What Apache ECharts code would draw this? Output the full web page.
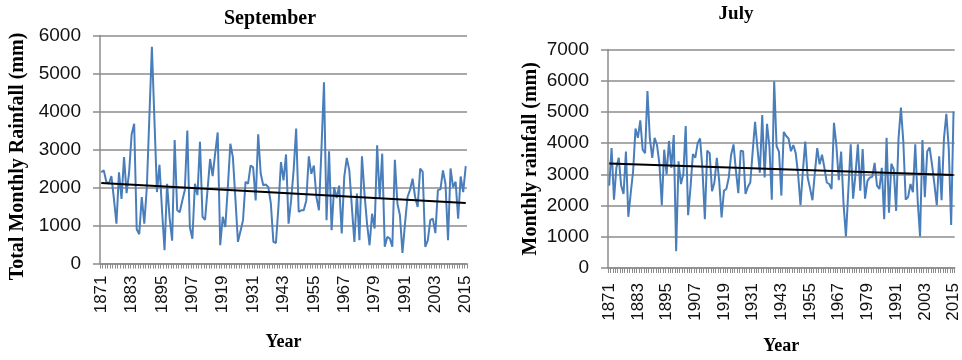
<!DOCTYPE html>
<html>
<head>
<meta charset="utf-8">
<script src="https://cdn.jsdelivr.net/npm/echarts@6/dist/echarts.min.js"></script>
<style>
  html, body { margin: 0; padding: 0; background: #fff; }
  #chart { width: 962px; height: 360px; }
</style>
</head>
<body>
<div id="chart"></div>
<script>
// years 1871..2015
const years = [];
for (let y = 1871; y <= 2015; y++) years.push(String(y));

// September total monthly rainfall (mm)
const septRain = [
  2400, 2450, 2150, 2100, 2300, 1700, 1050, 2400, 1700, 2800,
  1850, 2400, 3400, 3680, 900, 770, 1750, 1050, 2000, 3850,
  5700, 3800, 1880, 2600, 1400, 350, 2100, 1200, 600, 3250,
  1400, 1350, 1650, 1930, 3500, 960, 650, 2100, 1800, 3200,
  1230, 1150, 1950, 2750, 2300, 2900, 3450, 480, 1230, 960,
  2000, 3150, 2800, 1700, 570, 850, 1140, 2150, 2100, 2580,
  2530, 1660, 3400, 2360, 2060, 2080, 2010, 1580, 570, 540,
  1490, 2670, 2190, 2870, 1050, 1660, 2450, 3550, 1360, 1400,
  1400, 1660, 2820, 2360, 2580, 1750, 1400, 3020, 4770, 1140,
  2950, 875, 2010, 1720, 2050, 790, 2280, 2780, 2450, 1490,
  570, 1840, 610, 2820, 1840, 1050, 480, 1310, 920, 3110,
  1710, 2890, 440, 700, 660, 440, 2730, 1580, 1270, 280,
  1050, 1750, 1940, 2230, 1750, 1490, 2500, 2410, 440, 610,
  1140, 1180, 800, 1930, 1950, 2450, 2100, 610, 2500, 2010,
  2150, 1180, 2290, 1880, 2560
];

// July monthly rainfall (mm)
const julyRain = [
  2640, 3840, 2190, 3210, 3530, 2640, 2370, 3730, 1640, 2400,
  3100, 4470, 4170, 4730, 3790, 3680, 5670, 4150, 3530, 4170,
  3940, 3340, 2010, 3790, 3000, 4070, 3210, 4260, 540, 3420,
  2690, 3000, 4550, 1690, 2580, 3650, 3530, 4000, 4150, 3160,
  1560, 3760, 3680, 2460, 2740, 3530, 2790, 1620, 2480, 2530,
  2900, 3630, 3960, 3110, 2400, 3760, 3740, 2370, 2600, 2740,
  3730, 4680, 3840, 3050, 4900, 2900, 4620, 3900, 2190, 5980,
  3900, 3730, 2320, 4360, 4230, 4150, 3740, 3940, 3680, 3000,
  2010, 3110, 4050, 2900, 2550, 2170, 3050, 3840, 3320, 3630,
  3210, 2740, 2690, 2530, 4650, 3940, 2810, 3730, 2060, 1010,
  2480, 3960, 2220, 3000, 3960, 2480, 3810, 2220, 2790, 2900,
  2920, 3370, 2640, 2530, 3210, 1560, 4170, 1770, 3340, 3160,
  1830, 4150, 5140, 4050, 2190, 2270, 2690, 2430, 3960, 2170,
  1010, 4100, 2270, 3730, 3860, 3320, 2690, 2010, 3580, 2170,
  4150, 4940, 3840, 1380, 5010
];

// linear trend end values (first and last year)
const septTrend = [2120, 1590];
const julyTrend = [3350, 2980];

const trendData = (ends) =>
  years.map((_, i) => (i === 0 ? ends[0] : i === years.length - 1 ? ends[1] : null));

const GRID_GRAY = "#8c8c8c";
const BLUE = "#4a7ebb";
const SERIF = "'Liberation Serif', 'Times New Roman', serif";
const SANS = "'Liberation Sans', Arial, sans-serif";

function xAxisFor(gridIndex, nameGap, labelMargin) {
  return {
    type: "category",
    gridIndex,
    data: years,
    boundaryGap: true,
    name: "Year",
    nameLocation: "middle",
    nameGap,
    nameTextStyle: { fontFamily: SERIF, fontWeight: "bold", fontSize: 18, color: "#000" },
    axisLine: { lineStyle: { color: GRID_GRAY, width: 1.5 } },
    axisTick: { show: true, interval: 0, length: 5, lineStyle: { color: GRID_GRAY, width: 1 } },
    axisLabel: {
      interval: 11,
      rotate: 90,
      margin: labelMargin,
      fontFamily: SANS,
      fontSize: 17,
      color: "#111"
    },
    splitLine: { show: false }
  };
}

function yAxisFor(gridIndex, max, name, nameGap, namePad) {
  return {
    type: "value",
    gridIndex,
    min: 0,
    max,
    interval: 1000,
    name,
    nameLocation: "middle",
    nameRotate: 90,
    nameGap,
    nameTextStyle: {
      fontFamily: SERIF, fontWeight: "bold", fontSize: 20, color: "#000",
      padding: namePad
    },
    axisLine: { show: true, lineStyle: { color: GRID_GRAY, width: 1.5 } },
    axisTick: { show: true, length: 7, lineStyle: { color: GRID_GRAY, width: 1.5 } },
    axisLabel: {
      margin: 19, fontFamily: SANS, fontSize: 19, color: "#111",
      formatter: (v) => String(v)
    },
    splitLine: { show: true, lineStyle: { color: GRID_GRAY, width: 1.5 } }
  };
}

const chart = echarts.init(document.getElementById("chart"), null, { renderer: "canvas" });

chart.setOption({
  backgroundColor: "#fff",
  animation: false,
  title: [
    {
      text: "September",
      left: 265,
      top: 4,
      textAlign: "center",
      textStyle: { fontFamily: SERIF, fontWeight: "bold", fontSize: 20, color: "#000" }
    },
    {
      text: "July",
      left: 731,
      top: 0,
      textAlign: "center",
      textStyle: { fontFamily: SERIF, fontWeight: "bold", fontSize: 19, color: "#000" }
    }
  ],
  grid: [
    { left: 100, top: 35.5, width: 367, height: 228 },
    { left: 608, top: 49.5, width: 354, height: 223 }
  ],
  xAxis: [xAxisFor(0, 70, 12), xAxisFor(1, 69, 15)],
  yAxis: [
    yAxisFor(0, 6000, "Total Monthly Rainfall (mm)", 72, [0, 14, 0, 0]),
    yAxisFor(1, 7000, "Monthly rainfall (mm)", 67, 0)
  ],
  series: [
    {
      name: "September",
      type: "line",
      xAxisIndex: 0,
      yAxisIndex: 0,
      data: septRain,
      symbol: "none",
      lineStyle: { color: BLUE, width: 2 },
      z: 2
    },
    {
      name: "September trend",
      type: "line",
      xAxisIndex: 0,
      yAxisIndex: 0,
      data: trendData(septTrend),
      connectNulls: true,
      symbol: "none",
      lineStyle: { color: "#000", width: 2 },
      z: 3
    },
    {
      name: "July",
      type: "line",
      xAxisIndex: 1,
      yAxisIndex: 1,
      data: julyRain,
      symbol: "none",
      lineStyle: { color: BLUE, width: 2 },
      z: 2
    },
    {
      name: "July trend",
      type: "line",
      xAxisIndex: 1,
      yAxisIndex: 1,
      data: trendData(julyTrend),
      connectNulls: true,
      symbol: "none",
      lineStyle: { color: "#000", width: 2 },
      z: 3
    }
  ]
});
</script>
</body>
</html>
